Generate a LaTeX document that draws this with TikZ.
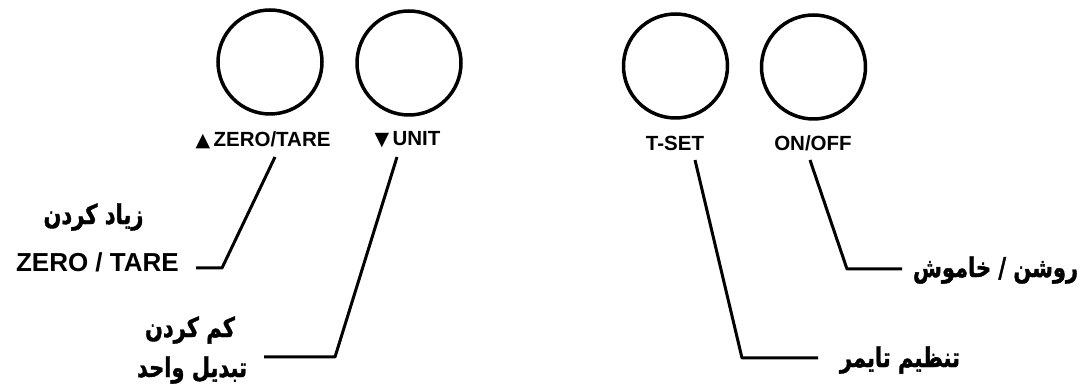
\documentclass[tikz,border=0pt]{standalone}
\usepackage{fontspec}
\usepackage{graphicx}
\setmainfont{Liberation Sans}
\newfontfamily\arabicfont[Script=Arabic,FakeBold=1.5]{DejaVu Sans Bold}
\newfontfamily\symfont{DejaVu Sans}
\TeXXeTstate=1
\newcommand{\fatext}[1]{\scalebox{1}[1.3]{\arabicfont\beginR #1\endR}}
\begin{document}
\begin{tikzpicture}[x=1pt,y=1pt,
  btn/.style={draw,circle,line width=3.5pt,minimum size=104pt,inner sep=0pt},
  btnlab/.style={font=\fontsize{20.5}{20.5}\selectfont\bfseries,inner sep=0pt},
  fa/.style={font=\fontsize{21}{21}\selectfont,inner sep=0pt},
  en/.style={font=\fontsize{26}{26}\selectfont\bfseries,inner sep=0pt},
  lead/.style={line width=3pt,line join=round}]
\useasboundingbox (0,0) rectangle (1088,391);
% buttons
\node[btn] (bz) at (270,329) {};
\node[btn] (bu) at (409,328) {};
\node[btn] (bt) at (675.5,325) {};
\node[btn] (bo) at (813.5,324) {};
% button labels
\node[btnlab] (lz) at (263,251) {{\symfont\fontsize{19}{19}\selectfont▲}\,ZERO/TARE};
\node[btnlab] (lu) at (407.5,251) {{\symfont\fontsize{19}{19}\selectfont▼}\,UNIT};
\node[btnlab] (lt) at (675,248) {T-SET};
\node[btnlab] (lo) at (813,248) {ON/OFF};
% texts
\node[fa] (tz1) at (93.5,174) {\fatext{زیاد کردن}};
\node[en,anchor=east] (tz2) at (179,129) {ZERO / TARE};
\node[fa] (tu1) at (190,61) {\fatext{کم کردن}};
\node[fa] (tu2) at (192,21) {\fatext{تبدیل واحد}};
\node[fa] (tt) at (900,31) {\fatext{تنظیم تایمر}};
\node[fa] (to) at (995.5,121) {\fatext{روشن / خاموش}};
% leader coordinates
\coordinate (zs) at (275,234); \coordinate (zb) at (222,123); \coordinate (ze) at (196,123);
\coordinate (us) at (397,234); \coordinate (ub) at (335,34);  \coordinate (ue) at (264,34);
\coordinate (ts) at (695,231); \coordinate (tb) at (742,33);  \coordinate (te) at (818,33);
\coordinate (os) at (810,231); \coordinate (ob) at (847,122); \coordinate (oe) at (902,122);
\draw[lead] (zs) -- (zb) -- (ze);
\draw[lead] (us) -- (ub) -- (ue);
\draw[lead] (ts) -- (tb) -- (te);
\draw[lead] (os) -- (ob) -- (oe);
\end{tikzpicture}
\end{document}
